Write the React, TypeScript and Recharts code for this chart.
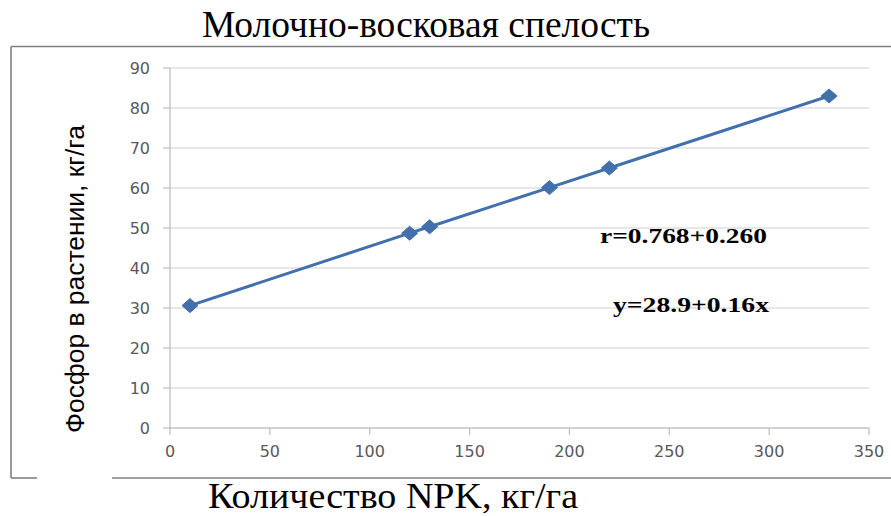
import React from 'react';
import { LineChart, Line, XAxis, YAxis, CartesianGrid } from 'recharts';

const npk = [10, 120, 130, 190, 220, 330];
const phosphorus = [30.6, 48.7, 50.3, 60.1, 65.0, 83.0];
const xTicks = [0, 50, 100, 150, 200, 250, 300, 350];
const yTicks = [0, 10, 20, 30, 40, 50, 60, 70, 80, 90];

const title = 'Молочно-восковая спелость';
const xTitle = 'Количество NPK, кг/га';
const yTitle = 'Фосфор в растении, кг/га';
const note1 = 'r=0.768+0.260';
const note2 = 'y=28.9+0.16x';

const data = npk.map((x, i) => ({ x, y: phosphorus[i] }));

const BLUE = '#4170ad';

const Diamond = (props: any) => {
  const { cx, cy } = props;
  if (cx == null || cy == null) return null;
  const w = 8;
  const h = 7;
  return (
    <polygon
      points={`${cx - w},${cy} ${cx},${cy - h} ${cx + w},${cy} ${cx},${cy + h}`}
      fill={BLUE}
      stroke={BLUE}
      strokeWidth={1}
    />
  );
};

export default function App() {
  return (
    <div style={{ position: 'absolute', left: 0, top: 0, width: 891, height: 516, background: '#fff' }}>
      <LineChart
        width={891}
        height={516}
        data={data}
        margin={{ top: 68, right: 22, bottom: 58, left: 0 }}
      >
        <CartesianGrid vertical={false} stroke="#d0d0d0" strokeWidth={1.2} />
        <XAxis
          dataKey="x"
          type="number"
          domain={[0, 350]}
          ticks={xTicks}
          height={30}
          tickSize={7}
          tickMargin={11}
          stroke="#bdbdbd"
          strokeWidth={1.2}
          tick={{ fill: '#595959', fontSize: 16, fontFamily: 'DejaVu Sans' }}
          interval={0}
        />
        <YAxis
          dataKey="y"
          type="number"
          domain={[0, 90]}
          ticks={yTicks}
          width={170}
          tickSize={7}
          tickMargin={13}
          stroke="#bdbdbd"
          strokeWidth={1.2}
          tick={{ fill: '#595959', fontSize: 16, fontFamily: 'DejaVu Sans' }}
          interval={0}
        />
        <Line
          type="linear"
          dataKey="y"
          stroke={BLUE}
          strokeWidth={3}
          dot={<Diamond />}
          activeDot={false}
          isAnimationActive={false}
        />
      </LineChart>
      <svg
        width={891}
        height={516}
        style={{ position: 'absolute', left: 0, top: 0, pointerEvents: 'none' }}
      >
        <g stroke="#808080" strokeWidth={1.6} fill="none">
          <line x1={11} y1={46.5} x2={891} y2={46.5} />
          <line x1={11} y1={46.5} x2={11} y2={478} />
          <line x1={11} y1={478} x2={37} y2={478} />
          <line x1={112} y1={478} x2={891} y2={478} />
        </g>
        <text
          x={426}
          y={37}
          textAnchor="middle"
          fontFamily="'Liberation Serif', 'Times New Roman', serif"
          fontSize={37}
          fill="#000"
          textLength={448}
          lengthAdjust="spacingAndGlyphs"
        >
          {title}
        </text>
        <text
          x={393}
          y={508}
          textAnchor="middle"
          fontFamily="'Liberation Serif', 'Times New Roman', serif"
          fontSize={35}
          fill="#000"
          textLength={370}
          lengthAdjust="spacingAndGlyphs"
        >
          {xTitle}
        </text>
        <text
          x={83.5}
          y={279}
          transform="rotate(-90 83.5 279)"
          textAnchor="middle"
          fontFamily="'Liberation Sans', Arial, sans-serif"
          fontSize={26}
          fill="#000"
          textLength={308}
          lengthAdjust="spacingAndGlyphs"
        >
          {yTitle}
        </text>
        <text
          x={683.5}
          y={243}
          textAnchor="middle"
          fontFamily="'Liberation Serif', 'Times New Roman', serif"
          fontWeight="bold"
          fontSize={20}
          fill="#000"
          textLength={167}
          lengthAdjust="spacingAndGlyphs"
        >
          {note1}
        </text>
        <text
          x={691}
          y={311.5}
          textAnchor="middle"
          fontFamily="'Liberation Serif', 'Times New Roman', serif"
          fontWeight="bold"
          fontSize={20}
          fill="#000"
          textLength={156}
          lengthAdjust="spacingAndGlyphs"
        >
          {note2}
        </text>
      </svg>
    </div>
  );
}
